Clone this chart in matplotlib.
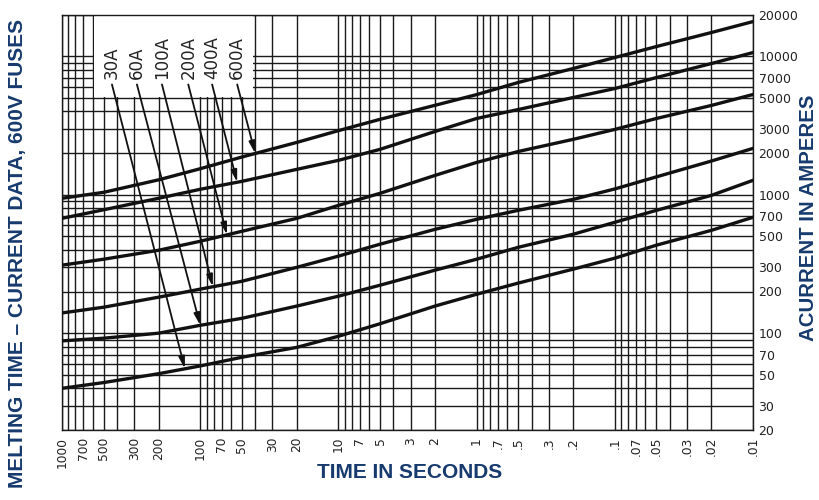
import numpy as np
import matplotlib.pyplot as plt
from matplotlib.patches import Rectangle

# time in seconds (x) and melting current in amperes for each fuse rating
t = [1000, 500, 200, 100, 50, 20, 10, 5, 2, 1, 0.5, 0.2, 0.1, 0.05, 0.02, 0.01]
a30 = [40, 44, 51, 58, 67, 79, 95, 117, 157, 191, 230, 290, 348, 432, 553, 687]
a60 = [88, 92, 100, 114, 128, 157, 185, 222, 285, 342, 417, 518, 632, 771, 989, 1270]
a100 = [140, 154, 182, 208, 237, 299, 360, 439, 562, 664, 771, 925, 1100, 1345, 1750, 2160]
a200 = [310, 342, 397, 461, 544, 675, 837, 1023, 1378, 1710, 2050, 2510, 2960, 3550, 4410, 5290]
a400 = [675, 778, 942, 1094, 1248, 1524, 1770, 2125, 2860, 3550, 4120, 5030, 5840, 7010, 8850, 10620]
a600 = [942, 1040, 1280, 1540, 1870, 2385, 2900, 3500, 4420, 5280, 6460, 8150, 9780, 11740, 14820, 17780]

ratings = ['30A', '60A', '100A', '200A', '400A', '600A']
curves = [a30, a60, a100, a200, a400, a600]
label_t = [435, 287, 189, 122, 82, 54]      # where the rating labels sit
tip_t = [129, 100, 81, 64, 54, 40]          # where the arrows hit the curves

xlabels = ['1000', '700', '500', '300', '200', '100', '70', '50', '30', '20',
           '10', '7', '5', '3', '2', '1', '.7', '.5', '.3', '.2',
           '.1', '.07', '.05', '.03', '.02', '.01']
ylabels = ['20', '30', '50', '70', '100', '200', '300', '500', '700', '1000',
           '2000', '3000', '5000', '7000', '10000', '20000']

navy = '#173a6e'
ink = '#111111'

fig = plt.figure(figsize=(8.19, 5), dpi=100)
ax = fig.add_axes([62/819, 1-430/500, (753-62)/819, (430-14.5)/500])
ax.set_xscale('log'); ax.set_yscale('log')
ax.set_xlim(1000, 0.01)
ax.set_ylim(20, 20000)

# full log paper grid
xg = [round(k*10.0**d, 4) for d in range(-2, 3) for k in range(1, 10)] + [1000]
yg = [k*10**d for d in range(1, 4) for k in range(1, 10)] + [10000, 20000]
yg = [v for v in yg if v >= 20]
xmap = {round(float(s), 4): s for s in xlabels}
ax.set_xticks(xg)
ax.set_xticklabels([xmap.get(v, '') for v in xg], rotation=90, fontsize=8.8, color='#222')
ax.set_xticks([], minor=True)
ax.set_yticks(yg)
ax.set_yticklabels([str(v) if str(v) in ylabels else '' for v in yg],
                   fontsize=9, color='#222')
ax.set_yticks([], minor=True)
ax.yaxis.tick_right()
ax.tick_params(axis='both', length=0)
ax.tick_params(axis='x', pad=5)
ax.tick_params(axis='y', pad=4)
ax.set_axisbelow(True)
ax.grid(True, which='major', color='#1a1a1a', lw=1.0)
for sp in ax.spines.values():
    sp.set_color('#1a1a1a'); sp.set_linewidth(1.0)

# blank label panel in the top left corner
ax.add_patch(Rectangle((585, 5080), 41.2-585, 20000-5080, facecolor='white',
                       edgecolor='none', zorder=1))

for name, I, lt, tt in zip(ratings, curves, label_t, tip_t):
    ax.plot(t, I, color=ink, lw=2.4, zorder=3, solid_joinstyle='round')
    ti = 10**np.interp(-np.log10(tt), -np.log10(t), np.log10(I))
    ax.annotate('', xy=(tt, ti), xytext=(lt, 6250),
                arrowprops=dict(arrowstyle='-|>,head_length=0.7,head_width=0.18',
                                color=ink, lw=1.3, shrinkA=0, shrinkB=0), zorder=4)
    ax.text(lt, 6900, name, rotation=90, ha='center', va='bottom',
            fontsize=12, color='#222', zorder=4)

fig.text(410/819, 1-473/500, 'TIME IN SECONDS', ha='center', va='center',
         fontsize=15, fontweight='bold', family='Liberation Sans', color=navy)
fig.text(18/819, 1-253/500, 'MELTING TIME \u2013 CURRENT DATA, 600V FUSES',
         rotation=90, ha='center', va='center', fontsize=15, fontweight='bold',
         family='Liberation Sans', color=navy)
fig.text(808/819, 1-218/500, 'ACURRENT IN AMPERES', rotation=90, ha='center',
         va='center', fontsize=14.7, fontweight='bold', family='Liberation Sans',
         color=navy)

fig.savefig('out.png')
